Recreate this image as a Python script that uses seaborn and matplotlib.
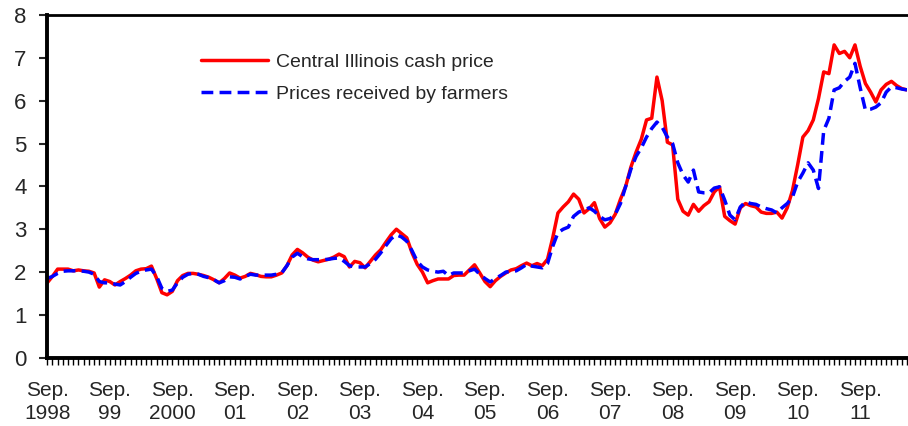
import numpy as np
import pandas as pd
import matplotlib
matplotlib.use('Agg')
import matplotlib.pyplot as plt
import seaborn as sns

# Monthly corn prices, Sep 1998 - Jun 2012 ($/bu)
cash_price = [1.75, 1.9, 2.07, 2.07, 2.07, 2.03, 2.05, 2.03, 2.02, 1.98, 1.65, 1.82,
              1.78, 1.70, 1.78, 1.85, 1.93, 2.03, 2.07, 2.08, 2.14, 1.85, 1.52, 1.47,
              1.55, 1.80, 1.92, 1.97, 1.97, 1.95, 1.92, 1.88, 1.82, 1.75, 1.85, 1.98,
              1.93, 1.86, 1.90, 1.97, 1.94, 1.90, 1.89, 1.89, 1.93, 1.98, 2.15, 2.40,
              2.53, 2.45, 2.35, 2.28, 2.24, 2.27, 2.30, 2.35, 2.42, 2.36, 2.12, 2.25,
              2.22, 2.10, 2.25, 2.40, 2.52, 2.70, 2.87, 3.00, 2.90, 2.80, 2.45, 2.18,
              2.00, 1.75, 1.80, 1.84, 1.84, 1.84, 1.92, 1.93, 1.93, 2.05, 2.17, 1.98,
              1.78, 1.66, 1.80, 1.90, 1.98, 2.05, 2.08, 2.15, 2.21, 2.15, 2.20, 2.15,
              2.30, 2.80, 3.38, 3.52, 3.64, 3.82, 3.70, 3.38, 3.48, 3.62, 3.25, 3.05,
              3.15, 3.35, 3.70, 4.00, 4.45, 4.80, 5.10, 5.55, 5.59, 6.55, 6.00, 5.03,
              4.97, 3.70, 3.42, 3.33, 3.58, 3.42, 3.55, 3.64, 3.87, 3.99, 3.30, 3.20,
              3.12, 3.50, 3.60, 3.55, 3.52, 3.40, 3.37, 3.37, 3.40, 3.26, 3.50, 3.90,
              4.50, 5.15, 5.30, 5.55, 6.05, 6.67, 6.63, 7.30, 7.10, 7.15, 7.00, 7.30,
              6.80, 6.40, 6.20, 5.97, 6.25, 6.38, 6.45, 6.35, 6.28, 6.25]

farm_price = [1.85, 1.9, 1.97, 2.02, 2.03, 2.03, 2.03, 2.02, 2.00, 1.95, 1.78, 1.75,
              1.75, 1.72, 1.70, 1.78, 1.88, 1.97, 2.02, 2.05, 2.07, 1.90, 1.62, 1.55,
              1.58, 1.75, 1.88, 1.95, 1.97, 1.95, 1.90, 1.87, 1.82, 1.75, 1.80, 1.89,
              1.88, 1.84, 1.90, 1.95, 1.93, 1.93, 1.93, 1.93, 1.95, 1.98, 2.15, 2.35,
              2.44, 2.36, 2.31, 2.29, 2.29, 2.29, 2.30, 2.32, 2.33, 2.25, 2.15, 2.12,
              2.12, 2.12, 2.20, 2.30, 2.45, 2.62, 2.78, 2.87, 2.82, 2.72, 2.50, 2.25,
              2.12, 2.05, 2.02, 2.00, 2.02, 1.92, 1.98, 1.98, 1.98, 2.03, 2.07, 1.95,
              1.85, 1.77, 1.85, 1.92, 2.00, 2.02, 2.03, 2.10, 2.18, 2.14, 2.12, 2.10,
              2.20, 2.60, 2.92, 3.00, 3.05, 3.30, 3.40, 3.45, 3.50, 3.42, 3.30, 3.22,
              3.25, 3.35, 3.60, 4.00, 4.40, 4.70, 4.90, 5.15, 5.35, 5.50, 5.38, 5.15,
              5.00, 4.55, 4.27, 4.10, 4.38, 3.87, 3.85, 3.85, 3.96, 3.99, 3.68, 3.33,
              3.22, 3.52, 3.64, 3.60, 3.58, 3.52, 3.48, 3.45, 3.38, 3.50, 3.60, 3.75,
              4.10, 4.31, 4.55, 4.38, 3.95, 5.30, 5.59, 6.25, 6.30, 6.45, 6.55, 6.87,
              6.30, 5.78, 5.80, 5.85, 5.95, 6.20, 6.32, 6.30, 6.27, 6.25]

year_labels = ['1998', '99', '2000', '01', '02', '03', '04', '05', '06', '07',
               '08', '09', '10', '11']

df = pd.DataFrame({'month': np.arange(len(cash_price)),
                   'cash': cash_price,
                   'farm': farm_price})

sns.set_style('ticks')
plt.rcParams['font.family'] = ['Liberation Sans', 'DejaVu Sans']

fig = plt.figure(figsize=(9.08, 4.26), dpi=100)
ax = fig.add_axes([0.052, 0.16, 0.947, 0.805])

sns.lineplot(data=df, x='month', y='cash', ax=ax, color='#ff0000', linewidth=2.5,
             label='Central Illinois cash price')
sns.lineplot(data=df, x='month', y='farm', ax=ax, color='#0000ff', linewidth=2.5,
             linestyle=(0, (3.4, 1.8)), label='Prices received by farmers')

ax.set_xlim(0, 165)
ax.set_ylim(0, 8)
ax.set_xlabel('')
ax.set_ylabel('')

# axis ticks: yearly labels at September, monthly minor ticks
ax.set_xticks(np.arange(0, 12 * len(year_labels), 12))
ax.set_xticklabels(['Sep.\n' + y for y in year_labels], linespacing=1.25)
ax.set_xticks(np.arange(0, 166), minor=True)
ax.set_yticks(range(0, 9))
ax.tick_params(axis='x', which='both', direction='out', length=5, width=1, pad=12,
               labelsize=15, color='black')
ax.tick_params(axis='y', direction='out', length=6, width=1.5, pad=9, labelsize=16)

for side in ['left', 'bottom']:
    ax.spines[side].set_linewidth(2.8)
ax.spines['top'].set_linewidth(2.0)
ax.spines['right'].set_visible(False)
for side in ['left', 'bottom', 'top']:
    ax.spines[side].set_color('black')

ax.legend(loc='upper left', bbox_to_anchor=(0.158, 0.94), frameon=False,
          fontsize=14, handlelength=3.45, handletextpad=0.45, labelspacing=0.75)

fig.savefig('out.png', dpi=100)
